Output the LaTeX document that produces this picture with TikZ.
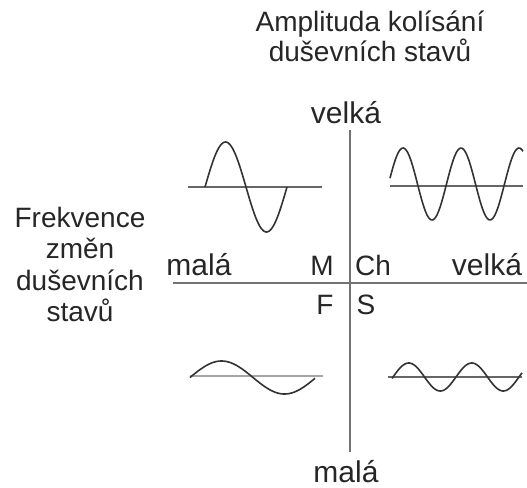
\documentclass[tikz,border=0pt]{standalone}
\usepackage{fontspec}
\setmainfont{Liberation Sans}
\begin{document}
\begin{tikzpicture}[x=1pt,y=-1pt,
  lbl/.style={anchor=base,inner sep=0pt,text=black!85,font=\fontsize{28}{30}\selectfont},
  big/.style={anchor=base,inner sep=0pt,text=black!85,font=\fontsize{30}{32}\selectfont},
  mainaxis/.style={draw=black!55,line width=1.4pt},
  waxis/.style={draw=black!60,line width=1.1pt},
  wave/.style={draw=black!80,line width=1.6pt,smooth,samples=80}]
\useasboundingbox (0,0) rectangle (527,487);
% title
\node[lbl] (t1) at (370,32) {Amplituda kolísání};
\node[lbl] (t2) at (370,62) {duševních stavů};
% left label
\node[lbl] (f1) at (80,227) {Frekvence};
\node[lbl] (f2) at (80,258) {změn};
\node[lbl] (f3) at (80,290) {duševních};
\node[lbl] (f4) at (80,321) {stavů};
% axes
\coordinate (vt) at (350,130);
\coordinate (vb) at (350,452);
\coordinate (hl) at (173,283);
\coordinate (hr) at (527,283);
\draw[mainaxis] (vt) -- (vb);
\draw[mainaxis] (hl) -- (hr);
\node[big] (vtop) at (346,123) {velká};
\node[big] (vbot) at (346,482) {malá};
\node[big] (hleft) at (199,275) {malá};
\node[big] (hright) at (487,275) {velká};
\node[lbl] (m) at (322,275) {M};
\node[lbl] (ch) at (373,275) {Ch};
\node[lbl] (f) at (325,314) {F};
\node[lbl] (s) at (366,314) {S};
% top-left wave
\coordinate (a1) at (188,187); \coordinate (a2) at (322,187);
\draw[waxis] (a1) -- (a2);
\draw[wave,domain=205:287] plot (\x,{187-45*sin((\x-205)/82*360)});
% top-right wave
\coordinate (b1) at (390,186); \coordinate (b2) at (523,186);
\draw[waxis] (b1) -- (b2);
\draw[wave,domain=390:523,samples=120] plot (\x,{184-36*sin((\x-388.5)/58*360)});
% bottom-left wave
\coordinate (c1) at (190,376); \coordinate (c2) at (323,376);
\draw[draw=black!35,line width=1.1pt] (c1) -- (c2);
\draw[wave,domain=190:315] plot (\x,{377.5-16.5*sin((\x-190)/126*360)});
% bottom-right wave
\coordinate (d1) at (388,377); \coordinate (d2) at (522,377);
\draw[waxis] (d1) -- (d2);
\draw[wave,domain=392:522,samples=120] plot (\x,{377-14*sin((\x-393)/63*360)});
\end{tikzpicture}
\end{document}
